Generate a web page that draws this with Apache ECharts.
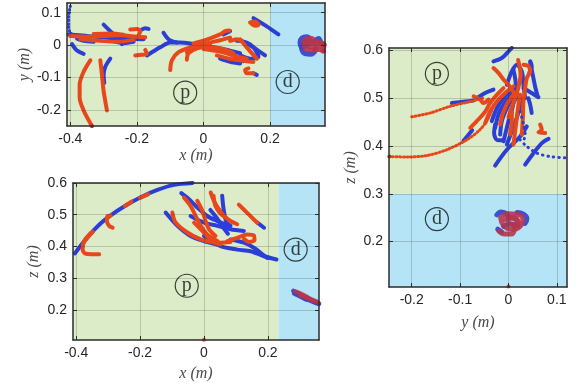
<!DOCTYPE html>
<html>
<head>
<meta charset="utf-8">
<script src="https://cdn.jsdelivr.net/npm/echarts@6/dist/echarts.min.js"></script>
<style>
  html, body { margin: 0; padding: 0; background: #fff; }
  #chart { width: 580px; height: 391px; }
</style>
</head>
<body>
<div id="chart"></div>
<script>
// ---- ticks ----
const xTicks = [-0.4, -0.2, 0, 0.2];
const yTicksXY = [-0.2, -0.1, 0, 0.1];
const zTicks = [0.2, 0.3, 0.4, 0.5, 0.6];
const yTicksYZ = [-0.2, -0.1, 0, 0.1];

// ---- x-y panel (top left) ----
const xyRed = [
  [[-0.4,0.028],[-0.35,0.026],[-0.3,0.028],[-0.25,0.03],[-0.2,0.026],[-0.175,0.024]],
  [[-0.37,0.018],[-0.31,0.013],[-0.26,0.01],[-0.21,0.016]],
  [[-0.33,0.034],[-0.28,0.036],[-0.24,0.032]],
  [[-0.22,0.048],[-0.2,0.05],[-0.19,0.043],[-0.195,0.03]],
  [[-0.34,-0.047],[-0.36,-0.082],[-0.372,-0.122],[-0.372,-0.162],[-0.36,-0.202],[-0.335,-0.25]],
  [[-0.31,-0.047],[-0.305,-0.092],[-0.3,-0.142],[-0.29,-0.202]],
  [[-0.205,-0.032],[-0.185,-0.03],[-0.17,-0.027],[-0.175,-0.015]],
  [[-0.1,-0.077],[-0.095,-0.047],[-0.075,-0.022],[-0.04,-0.007],[0,0.003],[0.05,0.015],[0.08,0.023]],
  [[-0.05,-0.045],[-0.045,-0.025],[-0.02,-0.01],[0.02,0.0]],
  [[-0.03,0.005],[0.02,0.021],[0.05,0.033],[0.065,0.043],[0.078,0.045]],
  [[-0.05,-0.022],[-0.03,-0.012],[0.01,-0.005],[0.06,-0.012],[0.09,-0.025]],
  [[0.0,-0.012],[0.05,-0.02],[0.1,-0.035],[0.13,-0.042]],
  [[0.08,0.013],[0.1,0.018],[0.11,0.013]],
  [[0.04,-0.032],[0.09,-0.045],[0.15,-0.052]],
  [[0.11,0.018],[0.13,-0.007],[0.16,-0.042]],
  [[0.135,-0.072],[0.125,-0.077],[0.13,-0.087],[0.15,-0.087]],
  [[0.14,0.07],[0.155,0.073],[0.165,0.063],[0.155,0.06],[0.145,0.065]]
];
const xyBlue = [
  [[-0.405,0.033],[-0.35,0.028],[-0.29,0.023],[-0.23,0.02],[-0.18,0.018]],
  [[-0.3,0.063],[-0.28,0.043],[-0.26,0.023],[-0.245,0.003]],
  [[-0.38,0.02],[-0.36,0.013],[-0.33,0.01]],
  [[-0.27,0.012],[-0.24,0.006],[-0.21,0.01]],
  [[-0.395,0.003],[-0.38,-0.017],[-0.36,-0.027]],
  [[-0.28,-0.042],[-0.295,-0.067],[-0.3,-0.092],[-0.298,-0.117]],
  [[-0.185,0.048],[-0.175,0.052],[-0.165,0.05]],
  [[-0.17,-0.032],[-0.13,-0.007],[-0.1,0.008],[-0.07,0.008],[-0.04,0.005],[0,-0.002],[0.04,-0.009],[0.08,-0.017],[0.11,-0.025]],
  [[-0.12,0.038],[-0.105,0.018],[-0.08,0.008]],
  [[0.06,0.033],[0.08,0.043]],
  [[-0.01,0.0],[0.04,-0.012],[0.09,-0.032],[0.12,-0.05]],
  [[0.1,0.013],[0.13,0.008],[0.15,-0.007],[0.165,-0.037],[0.14,-0.042],[0.11,-0.032]],
  [[0.11,0.016],[0.15,-0.007],[0.185,-0.032]],
  [[0.05,-0.042],[0.08,-0.052],[0.11,-0.057]],
  [[0.15,-0.087],[0.16,-0.092]],
  [[0.15,0.083],[0.19,0.058],[0.225,0.033]]
];
const xyBlueDotted = [
  [[-0.4,0.12],[-0.405,0.088],[-0.405,0.058],[-0.4,0.038],[-0.385,0.031],[-0.35,0.03]]
];
const xyDRed = [
  [[0.302,0.014],[0.318,0.022],[0.335,0.014],[0.342,0.0],[0.33,-0.016],[0.312,-0.014],[0.302,0.0],[0.302,0.014]],
  [[0.31,0.008],[0.325,0.01],[0.332,-0.002],[0.318,-0.006]],
  [[0.322,0.008],[0.34,0.01],[0.355,0.002],[0.35,-0.014],[0.336,-0.012]],
  [[0.356,0.006],[0.362,0.0],[0.358,-0.018]]
];
const xyDBlue = [
  [[0.29,0.008],[0.296,0.022],[0.31,0.026],[0.318,0.014],[0.31,0.0],[0.296,-0.006],[0.29,0.008]],
  [[0.295,-0.012],[0.305,-0.026],[0.322,-0.028],[0.335,-0.018]],
  [[0.335,0.012],[0.345,0.02],[0.352,0.008]],
  [[0.3,0.004],[0.306,0.012]]
];
const xyDots = [[-0.335,-0.25],[0.364,0.002],[0.362,-0.02]];
const xyLabels = [{ name: 'p', value: [-0.055,-0.147] }, { name: 'd', value: [0.253,-0.114] }];

// ---- x-z panel (bottom left) ----
const xzBlue = [
  [[-0.404,0.378],[-0.38,0.41],[-0.354,0.441],[-0.323,0.473],[-0.292,0.498],[-0.25,0.526],[-0.198,0.555],[-0.146,0.578],[-0.094,0.594],[-0.036,0.6]],
  [[-0.12,0.507],[-0.083,0.465],[-0.042,0.433],[0,0.417],[0.042,0.406]],
  [[-0.071,0.568],[-0.047,0.549],[-0.021,0.523],[0.01,0.496],[0.042,0.48],[0.078,0.465]],
  [[0.057,0.56],[0.06,0.528],[0.065,0.496],[0.071,0.475],[0.083,0.465]],
  [[0,0.433],[0.052,0.401],[0.104,0.39],[0.146,0.385],[0.188,0.369],[0.227,0.359]],
  [[0.083,0.422],[0.125,0.412],[0.156,0.396],[0.177,0.38],[0.198,0.364]],
  [[0.167,0.475],[0.188,0.459]],
  [[-0.042,0.496],[0,0.475],[0.042,0.465],[0.083,0.454],[0.125,0.449]],
  [[0.02,0.515],[0.04,0.49],[0.06,0.46],[0.075,0.44]]
];
const xzRed = [
  [[-0.377,0.412],[-0.363,0.43],[-0.348,0.446]],
  [[-0.304,0.49],[-0.292,0.498]],
  [[-0.248,0.528],[-0.227,0.541]],
  [[-0.2,0.553],[-0.175,0.564]],
  [[-0.354,0.443],[-0.375,0.417],[-0.38,0.39],[-0.37,0.377],[-0.328,0.375]],
  [[-0.302,0.496],[-0.304,0.48],[-0.297,0.465],[-0.286,0.459]],
  [[-0.099,0.507],[-0.089,0.476],[-0.052,0.444],[-0.01,0.422],[0.031,0.412],[0.052,0.406]],
  [[-0.0625,0.554],[-0.042,0.528],[-0.026,0.496],[-0.01,0.465],[0.01,0.438],[0.042,0.417]],
  [[0.021,0.57],[0.031,0.544],[0.047,0.517],[0.0625,0.496],[0.083,0.48],[0.104,0.47]],
  [[-0.031,0.475],[-0.01,0.454],[0.021,0.422],[0.052,0.412],[0.083,0.414]],
  [[0.073,0.417],[0.104,0.427],[0.135,0.438],[0.156,0.435],[0.158,0.42],[0.141,0.414],[0.125,0.424]],
  [[0.109,0.532],[0.135,0.506],[0.156,0.485],[0.167,0.475]],
  [[-0.021,0.544],[-0.005,0.512],[0.005,0.48],[0.016,0.454],[0.036,0.433]],
  [[0.03,0.56],[0.035,0.53],[0.05,0.505],[0.07,0.49]]
];
const xzDBlue = [
  [[0.28,0.26],[0.3,0.248],[0.325,0.235],[0.35,0.224],[0.36,0.219]],
  [[0.29,0.253],[0.31,0.24],[0.335,0.228],[0.356,0.22]],
  [[0.282,0.252],[0.3,0.243],[0.32,0.233]]
];
const xzDRed = [
  [[0.285,0.258],[0.305,0.25],[0.33,0.236],[0.355,0.225]],
  [[0.3,0.246],[0.318,0.239],[0.34,0.229]]
];
const xzDots = [[0, 0.106], [0.359, 0.222]];
const xzLabels = [{ name: 'p', value: [-0.054,0.276] }, { name: 'd', value: [0.287,0.39] }];

// ---- y-z panel (right) ----
const yzBlue = [
  [[-0.031,0.577],[-0.0138,0.584],[-0.0034,0.594],[0.0069,0.605]],
  [[-0.0034,0.528],[0.0069,0.556],[0.0172,0.57],[0.0276,0.556],[0.031,0.528],[0.0345,0.5]],
  [[0.045,0.577],[0.048,0.567],[0.043,0.553]],
  [[0.045,0.575],[0.05,0.55],[0.055,0.525],[0.06,0.505]],
  [[0.031,0.521],[0.048,0.511],[0.062,0.502]],
  [[0.041,0.5],[0.045,0.486],[0.048,0.469]],
  [[-0.0655,0.5],[-0.048,0.511],[-0.031,0.518]],
  [[-0.117,0.49],[-0.09,0.493],[-0.072,0.495]],
  [[-0.093,0.411],[-0.083,0.423],[-0.075,0.433]],
  [[-0.0345,0.452],[-0.024,0.479],[-0.0103,0.5],[0.0034,0.514],[0.0172,0.525]],
  [[-0.0276,0.438],[-0.0207,0.466],[-0.0103,0.486],[0.0034,0.504],[0.0138,0.514]],
  [[-0.0172,0.424],[-0.0138,0.452],[-0.0034,0.479],[0.0069,0.5],[0.0172,0.514]],
  [[-0.0103,0.41],[-0.0034,0.438],[0.0034,0.466],[0.0103,0.49],[0.0207,0.507]],
  [[-0.0034,0.403],[0.0069,0.431],[0.0172,0.459],[0.0241,0.483],[0.0276,0.5]],
  [[0.01,0.56],[0.015,0.53],[0.012,0.5],[0.006,0.47]],
  [[-0.0276,0.445],[-0.0297,0.427],[-0.024,0.413],[-0.0103,0.412]],
  [[-0.0276,0.359],[-0.0034,0.392],[0.0241,0.42],[0.0379,0.441]],
  [[0.0345,0.361],[0.0517,0.385],[0.069,0.406],[0.083,0.415]]
];
const yzRed = [
  [[-0.031,0.563],[-0.0207,0.553],[-0.0103,0.539],[0,0.528],[0.0138,0.507]],
  [[0.031,0.57],[0.0414,0.567],[0.0448,0.556],[0.0379,0.542],[0.0345,0.521],[0.031,0.493],[0.0297,0.459],[0.0276,0.424]],
  [[0.02,0.58],[0.025,0.55],[0.02,0.52],[0.01,0.49],[0.0,0.46]],
  [[-0.072,0.504],[-0.0586,0.497],[-0.052,0.49],[-0.041,0.497]],
  [[-0.079,0.438],[-0.0655,0.452],[-0.048,0.472],[-0.038,0.49],[-0.024,0.507],[-0.0103,0.521]],
  [[-0.048,0.448],[-0.038,0.472],[-0.024,0.493],[-0.0069,0.511],[0.0103,0.525]],
  [[-0.0172,0.445],[-0.0103,0.472],[0,0.493],[0.0103,0.507]],
  [[0.0103,0.403],[0.0138,0.431],[0.0172,0.459],[0.0207,0.486],[0.0241,0.507]],
  [[0.0034,0.424],[0.0069,0.452],[0.0069,0.472]],
  [[0.0655,0.445],[0.069,0.434],[0.062,0.429],[0.0759,0.427]]
];
const yzRedDotted = [
  [[-0.247,0.378],[-0.21,0.377],[-0.169,0.38],[-0.128,0.392],[-0.086,0.413],[-0.059,0.434],[-0.041,0.459],[-0.031,0.486]],
  [[-0.2,0.461],[-0.162,0.469],[-0.121,0.483],[-0.079,0.493],[-0.052,0.5]]
];
const yzBlueDotted = [
  [[0.0241,0.472],[0.031,0.445],[0.0345,0.424],[0.031,0.41]],
  [[0.024,0.413],[0.038,0.399],[0.059,0.385],[0.086,0.378],[0.121,0.375]]
];
const yzDRed = [
  [[-0.016,0.25],[-0.002,0.258],[0.016,0.257],[0.03,0.247],[0.024,0.232],[0.006,0.226],[-0.01,0.234],[-0.016,0.25]],
  [[-0.006,0.246],[0.008,0.25],[0.018,0.244],[0.012,0.236],[0.0,0.238]],
  [[-0.02,0.222],[-0.008,0.216],[0.006,0.216],[0.012,0.224]],
  [[0.004,0.25],[0.02,0.242],[0.012,0.232]]
];
const yzDBlue = [
  [[-0.024,0.256],[-0.015,0.262],[-0.004,0.258],[0.0,0.248]],
  [[0.018,0.261],[0.03,0.258],[0.038,0.248],[0.034,0.238]],
  [[-0.01,0.232],[0.004,0.237],[0.02,0.233]],
  [[-0.022,0.226],[-0.014,0.22]]
];
const yzDots = [[0, 0.106], [-0.246, 0.378]];
const yzLabels = [{ name: 'p', value: [-0.148,0.551] }, { name: 'd', value: [-0.148,0.247] }];

// ---- styles ----
const RED = '#e8471c';
const BLUE = '#2b3fd6';
const MIX = '#b6354c';
const GREEN_BG = '#dcecc8';
const BLUE_BG = '#b4e4f6';
const DARK = '#2b2b2b';
const W = 4;

const fmt = v => (Math.abs(v) < 1e-9 ? '0' : String(Math.round(v * 10) / 10));

function axis(gi, range, ticks, main, pos, name, gap) {
  return {
    type: 'value', gridIndex: gi, min: range[0], max: range[1], position: pos, z: 5,
    name: main ? name : '', nameLocation: 'middle', nameGap: gap,
    nameTextStyle: { fontFamily: 'Liberation Serif', fontStyle: 'italic', fontSize: 16, color: '#4a4a4a' },
    axisLine: { show: true, onZero: false, lineStyle: { color: DARK, width: 1.5 } },
    axisTick: { show: true, inside: true, length: 4, customValues: ticks, lineStyle: { color: DARK, width: 1 } },
    axisLabel: { show: main, customValues: ticks, formatter: fmt, color: '#262626', fontSize: 14, fontFamily: 'Liberation Sans', margin: 6 },
    splitLine: { show: main, lineStyle: { color: 'rgba(40,40,40,0.2)', width: 1 } }
  };
}

const xyX = [-0.41, 0.365], xyY = [-0.25, 0.13];
const xzX = [-0.41, 0.36], xzZ = [0.105, 0.6];
const yzY = [-0.247, 0.121], yzZ = [0.105, 0.605];

const xAxis = [
  axis(0, xyX, xTicks, true, 'bottom', 'x (m)', 22), axis(0, xyX, xTicks, false, 'top'),
  axis(1, xzX, xTicks, true, 'bottom', 'x (m)', 26), axis(1, xzX, xTicks, false, 'top'),
  axis(2, yzY, yTicksYZ, true, 'bottom', 'y (m)', 28), axis(2, yzY, yTicksYZ, false, 'top')
];
const yAxis = [
  axis(0, xyY, yTicksXY, true, 'left', 'y (m)', 34), axis(0, xyY, yTicksXY, false, 'right'),
  axis(1, xzZ, zTicks, true, 'left', 'z (m)', 31), axis(1, xzZ, zTicks, false, 'right'),
  axis(2, yzZ, zTicks, true, 'left', 'z (m)', 30), axis(2, yzZ, zTicks, false, 'right')
];

const series = [];
function bg(ai, areas) {
  series.push({
    type: 'scatter', xAxisIndex: ai, yAxisIndex: ai, data: [], symbolSize: 0, z: 1, silent: true,
    markArea: {
      silent: true, label: { show: false },
      data: areas.map(a => [{ coord: a[0], itemStyle: { color: a[2], opacity: 1 } }, { coord: a[1] }])
    }
  });
}
function lines(ai, curves, color, opts) {
  curves.forEach(c => {
    series.push(Object.assign({
      type: 'line', xAxisIndex: ai, yAxisIndex: ai, data: c, smooth: 0.3,
      showSymbol: false, symbol: 'none', silent: true, z: 3, animation: false,
      itemStyle: { color: color },
      lineStyle: { color: color, width: W, cap: 'round', join: 'round' }
    }, opts || {}));
  });
}
function dotted(ai, curves, color, dash) {
  lines(ai, curves, color, { lineStyle: { color: color, width: 3, cap: 'round', type: dash } });
}
function thick(ai, curves, color, w) {
  lines(ai, curves, color, { smooth: 0.5, lineStyle: { color: color, width: w, cap: 'round', join: 'round', opacity: 0.9 } });
}
function dots(ai, pts, color) {
  series.push({ type: 'scatter', xAxisIndex: ai, yAxisIndex: ai, data: pts, symbolSize: 4, itemStyle: { color: color }, z: 4, silent: true });
}
function tags(ai, items) {
  series.push({
    type: 'scatter', xAxisIndex: ai, yAxisIndex: ai, data: items, symbol: 'circle', symbolSize: 23, z: 6, silent: true,
    itemStyle: { color: 'rgba(0,0,0,0)', borderColor: '#111', borderWidth: 1.2 },
    label: { show: true, position: 'inside', formatter: '{b}', fontFamily: 'Liberation Serif', fontSize: 20, color: '#111' }
  });
}

// x-y
bg(0, [[[xyX[0], xyY[0]], [0.2, xyY[1]], GREEN_BG], [[0.2, xyY[0]], [xyX[1], xyY[1]], BLUE_BG]]);
lines(0, xyBlue, BLUE);
dotted(0, xyBlueDotted, BLUE, [0.5, 3]);
lines(0, xyRed, RED);
thick(0, xyDBlue, BLUE, 5);
thick(0, xyDRed, MIX, 5);
dots(0, xyDots, '#f01010');
tags(0, xyLabels);

// x-z
bg(2, [[[xzX[0], xzZ[0]], [0.233, xzZ[1]], GREEN_BG], [[0.233, xzZ[0]], [xzX[1], xzZ[1]], BLUE_BG]]);
lines(2, xzBlue, BLUE);
lines(2, xzRed, RED);
thick(2, xzDBlue, BLUE, 4.5);
thick(2, xzDRed, MIX, 4.5);
dots(2, xzDots, '#f01010');
tags(2, xzLabels);

// y-z
bg(4, [[[yzY[0], 0.3], [yzY[1], yzZ[1]], GREEN_BG], [[yzY[0], yzZ[0]], [yzY[1], 0.3], BLUE_BG]]);
lines(4, yzBlue, BLUE);
dotted(4, yzRedDotted, RED, [1, 2.6]);
lines(4, yzRed, RED);
dotted(4, yzBlueDotted, BLUE, [0.5, 5]);
thick(4, yzDBlue, BLUE, 5);
thick(4, yzDRed, MIX, 5);
dots(4, yzDots, '#f01010');
tags(4, yzLabels);

const chart = echarts.init(document.getElementById('chart'), null, { renderer: 'canvas' });
chart.setOption({
  animation: false,
  grid: [
    { left: 67, top: 3, width: 258, height: 123 },
    { left: 73, top: 183, width: 246, height: 157 },
    { left: 389, top: 48, width: 178, height: 239 }
  ],
  xAxis: xAxis,
  yAxis: yAxis,
  series: series
});
</script>
</body>
</html>
